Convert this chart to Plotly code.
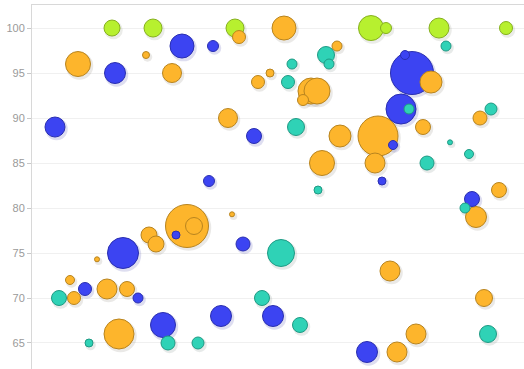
import plotly.graph_objects as go

# Bubble series: x position, y value, bubble diameter (px)
blue_x = [150, 181, 83, 23, 380, 373, 369, 222, 361, 177, 350, 440, 91, 144, 211, 53, 106, 131, 189, 241, 335]
blue_y = [98, 98, 95, 89, 95, 97, 91, 88, 87, 83, 83, 81, 75, 77, 76, 71, 70, 67, 68, 68, 64]
blue_s = [24, 11, 21, 20, 43, 9, 30, 15, 9, 11, 8, 15, 31, 8, 14, 13, 10, 25, 21, 21, 21]

orange_x = [46, 114, 140, 207, 252, 305, 238, 226, 279, 285, 271, 196, 308, 290, 399, 448, 391, 346,
            343, 467, 444, 358, 452, 384, 365, 117, 124, 65, 38, 75, 95, 42, 87, 155, 162, 200]
orange_y = [96, 97, 95, 99, 100, 98, 95, 94, 93, 93, 92, 90, 88, 85, 94, 90, 89, 88,
            85, 82, 79, 73, 70, 66, 64, 77, 76, 74.3, 72, 71, 71, 70, 66, 78, 78, 79.3]
orange_s = [25, 7, 19, 13, 24, 10, 8, 13, 26, 26, 11, 19, 22, 25, 22, 14, 15, 40,
            20, 15, 21, 20, 17, 20, 20, 16, 16, 5, 9, 20, 15, 13, 30, 43, 17, 5]

teal_x = [294, 297, 260, 256, 264, 414, 377, 459, 418, 437, 395, 286, 433, 249, 27, 230, 268, 456, 57, 136, 166]
teal_y = [97, 96, 96, 94, 89, 98, 91, 91, 87.3, 86, 85, 82, 80, 75, 70, 70, 67, 66, 65, 65, 65]
teal_s = [17, 10, 10, 13, 17, 10, 10, 12, 5, 9, 14, 8, 10, 27, 15, 15, 15, 17, 8, 14, 12]

lime_x = [80, 121, 203, 339, 354, 407, 474]
lime_y = [100, 100, 100, 100, 100, 100, 100]
lime_s = [16, 18, 18, 25, 11, 20, 13]

y_ticks = [65, 70, 75, 80, 85, 90, 95, 100]

series = [
    (blue_x, blue_y, blue_s, "#3c44f2", "#2a2fb0", "rgba(40,40,160,0.22)"),
    (orange_x, orange_y, orange_s, "#fdb52c", "#b8841f", "rgba(90,80,60,0.18)"),
    (teal_x, teal_y, teal_s, "#2fd2b6", "#1f9a84", "rgba(60,90,80,0.18)"),
    (lime_x, lime_y, lime_s, "#b7f02f", "#86b01f", "rgba(80,90,60,0.16)"),
]

# Merge all points and draw larger bubbles first so small ones stay visible
points = []
for xs, ys, ss, fill, edge, shade in series:
    for x, y, s in zip(xs, ys, ss):
        points.append((s, x, y, fill, edge, shade))
points.sort(key=lambda p: -p[0])

x_range = [0, 492]
y_range = [62.11, 102.56]
# Shadow layer uses its own axes, nudged so shadows fall slightly down-right
shadow_dx = 1.5
shadow_dy = 0.22

fig = go.Figure()

fig.add_trace(go.Scatter(
    x=[p[1] for p in points],
    y=[p[2] for p in points],
    mode="markers",
    marker=dict(
        size=[p[0] + 2.5 for p in points],
        sizemode="diameter",
        color=[p[5] for p in points],
        line=dict(width=0),
    ),
    hoverinfo="skip",
    showlegend=False,
    xaxis="x",
    yaxis="y",
))

fig.add_trace(go.Scatter(
    x=[p[1] for p in points],
    y=[p[2] for p in points],
    mode="markers",
    marker=dict(
        size=[p[0] for p in points],
        sizemode="diameter",
        color=[p[3] for p in points],
        opacity=1,
        line=dict(color=[p[4] for p in points], width=1),
    ),
    hoverinfo="x+y",
    showlegend=False,
    xaxis="x2",
    yaxis="y2",
))

fig.update_layout(
    width=524,
    height=369,
    margin=dict(l=32, r=0, t=5, b=0),
    paper_bgcolor="white",
    plot_bgcolor="white",
    font=dict(family="Liberation Sans, Arial, sans-serif", size=11, color="#9a9a9a"),
    xaxis=dict(
        range=[x_range[0] - shadow_dx, x_range[1] - shadow_dx],
        side="top",
        showticklabels=False,
        showgrid=False,
        zeroline=False,
        showline=False,
        ticks="",
    ),
    yaxis=dict(
        range=[y_range[0] + shadow_dy, y_range[1] + shadow_dy],
        showticklabels=False,
        showgrid=False,
        zeroline=False,
        showline=False,
        ticks="",
    ),
    xaxis2=dict(
        range=x_range,
        overlaying="x",
        side="top",
        showticklabels=False,
        showgrid=False,
        zeroline=False,
        showline=True,
        linecolor="#d8d8d8",
        linewidth=1,
        ticks="",
    ),
    yaxis2=dict(
        range=y_range,
        overlaying="y",
        side="left",
        tickvals=y_ticks,
        ticktext=[str(v) for v in y_ticks],
        showgrid=True,
        gridcolor="#f0f0f0",
        gridwidth=1,
        zeroline=False,
        showline=True,
        linecolor="#d8d8d8",
        linewidth=1,
        ticks="outside",
        ticklen=4,
        tickcolor="#c8c8c8",
        tickfont=dict(size=11, color="#9a9a9a"),
    ),
)

fig.write_html("out.html")
